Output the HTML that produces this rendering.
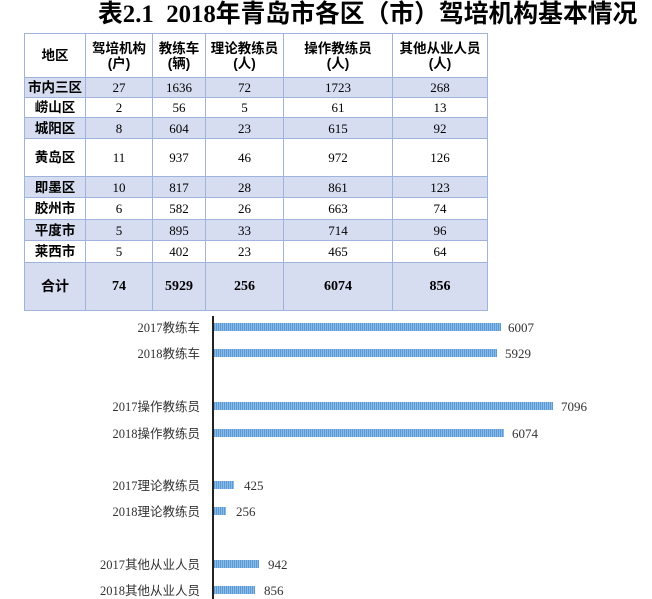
<!DOCTYPE html><html><head><meta charset="utf-8"><style>
body{margin:0;width:652px;height:599px;background:#fff;overflow:hidden;position:relative;font-family:"Liberation Serif","Noto Serif CJK SC",serif}
.t{position:absolute;top:-3px;left:98px;white-space:nowrap;font:bold 24.8px "Liberation Serif","Noto Sans CJK SC",sans-serif;line-height:36px}
table{position:absolute;left:24px;top:33px;border-collapse:collapse;font-size:13px}
td{border:1.5px solid #9fb3dc;text-align:center;padding:0;line-height:15px}
td:first-child,tr:first-child td{font-family:"Liberation Sans","Noto Sans CJK SC",sans-serif;font-weight:bold;font-size:13.5px}
.b td{font-weight:bold;font-size:14px}
.s td{background:#d7ddf1}
.lab{position:absolute;right:452px;font:12.5px "Liberation Serif","Noto Sans CJK SC",sans-serif;color:#333;white-space:nowrap}
.bar{position:absolute;left:214px;height:8px;background:repeating-linear-gradient(90deg,#5b9bd5 0 1px,#8dbbe8 1px 2px)}
.v{position:absolute;font:13px "Liberation Serif",serif;color:#333}
</style></head><body>
<div class="t">表2.1&nbsp; 2018年青岛市各区（市）驾培机构基本情况</div>
<table>
<col width="61"><col width="67"><col width="53"><col width="78"><col width="109"><col width="95">
<tr style="height:44px"><td>地区</td><td>驾培机构<br>(户)</td><td>教练车<br>(辆)</td><td>理论教练员<br>(人)</td><td>操作教练员<br>(人)</td><td>其他从业人员<br>(人)</td></tr>
<tr class="s" style="height:20px"><td>市内三区</td><td>27</td><td>1636</td><td>72</td><td>1723</td><td>268</td></tr>
<tr style="height:20px"><td>崂山区</td><td>2</td><td>56</td><td>5</td><td>61</td><td>13</td></tr>
<tr class="s" style="height:21px"><td>城阳区</td><td>8</td><td>604</td><td>23</td><td>615</td><td>92</td></tr>
<tr style="height:38px"><td>黄岛区</td><td>11</td><td>937</td><td>46</td><td>972</td><td>126</td></tr>
<tr class="s" style="height:21px"><td>即墨区</td><td>10</td><td>817</td><td>28</td><td>861</td><td>123</td></tr>
<tr style="height:22px"><td>胶州市</td><td>6</td><td>582</td><td>26</td><td>663</td><td>74</td></tr>
<tr class="s" style="height:21px"><td>平度市</td><td>5</td><td>895</td><td>33</td><td>714</td><td>96</td></tr>
<tr style="height:22px"><td>莱西市</td><td>5</td><td>402</td><td>23</td><td>465</td><td>64</td></tr>
<tr class="s b" style="height:48px"><td>合计</td><td>74</td><td>5929</td><td>256</td><td>6074</td><td>856</td></tr>
</table>
<div style="position:absolute;left:212px;top:316px;width:2px;height:283px;background:#222"></div>
<div class="lab" style="top:317px">2017教练车</div><div class="bar" style="top:323px;width:287px"></div><div class="v" style="left:508px;top:320px">6007</div>
<div class="lab" style="top:343px">2018教练车</div><div class="bar" style="top:349px;width:283px"></div><div class="v" style="left:505px;top:346px">5929</div>
<div class="lab" style="top:396px">2017操作教练员</div><div class="bar" style="top:402px;width:339px"></div><div class="v" style="left:561px;top:399px">7096</div>
<div class="lab" style="top:423px">2018操作教练员</div><div class="bar" style="top:429px;width:290px"></div><div class="v" style="left:512px;top:426px">6074</div>
<div class="lab" style="top:475px">2017理论教练员</div><div class="bar" style="top:481px;width:20px"></div><div class="v" style="left:244px;top:478px">425</div>
<div class="lab" style="top:501px">2018理论教练员</div><div class="bar" style="top:507px;width:12px"></div><div class="v" style="left:236px;top:504px">256</div>
<div class="lab" style="top:554px">2017其他从业人员</div><div class="bar" style="top:560px;width:45px"></div><div class="v" style="left:268px;top:557px">942</div>
<div class="lab" style="top:580px">2018其他从业人员</div><div class="bar" style="top:586px;width:41px"></div><div class="v" style="left:264px;top:583px">856</div>
</body></html>
